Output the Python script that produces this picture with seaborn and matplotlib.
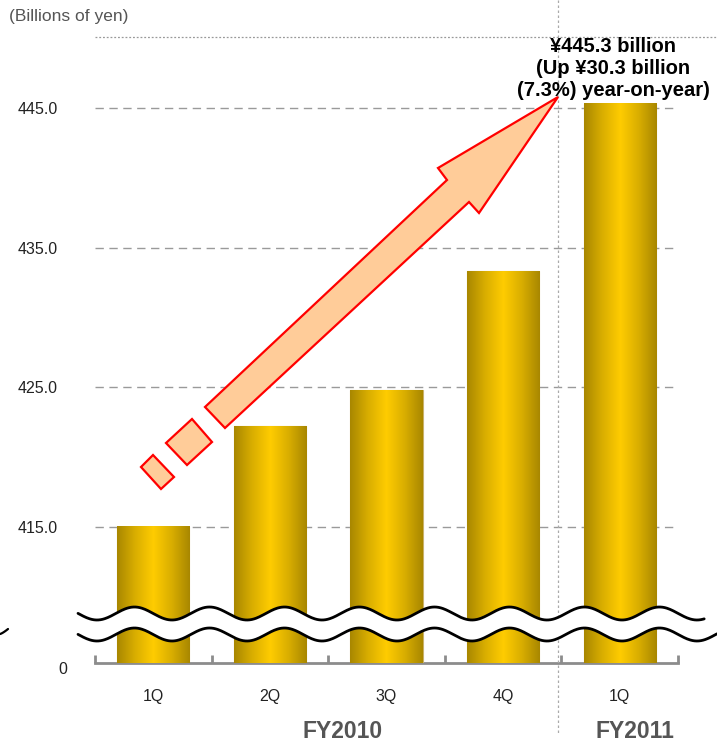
import numpy as np
import pandas as pd
import matplotlib
matplotlib.use("Agg")
import matplotlib.pyplot as plt
from matplotlib.patches import Polygon
from matplotlib.lines import Line2D
from matplotlib.colors import LinearSegmentedColormap
from matplotlib.transforms import ScaledTranslation, blended_transform_factory
import seaborn as sns

# Net sales by quarter (billions of yen)
periods = ["FY2010 1Q", "FY2010 2Q", "FY2010 3Q", "FY2010 4Q", "FY2011 1Q"]
quarter_labels = ["1Q", "2Q", "3Q", "4Q", "1Q"]
sales = [415.0, 422.2, 424.8, 433.3, 445.3]
upper_ticks = [415.0, 425.0, 435.0, 445.0]
fiscal_years = ["FY2010", "FY2011"]
headline = "¥445.3 billion\n(Up ¥30.3 billion\n(7.3%) year-on-year)"

df = pd.DataFrame({"period": periods, "sales": sales})

sns.set_theme(style="white")
plt.rcParams["font.family"] = ["Liberation Sans", "DejaVu Sans"]

W, H = 717, 741
fig = plt.figure(figsize=(W / 100, H / 100), dpi=100)


def fx(x):
    return x / W


def fy(y):
    return 1 - y / H


left, right = 95, 678
ax_top = fig.add_axes([fx(left), fy(620), fx(right) - fx(left), fy(37) - fy(620)])
ax_bot = fig.add_axes([fx(left), fy(663), fx(right) - fx(left), fy(620) - fy(663)])
TOP_LIM = (408.34, 450.08)
BOT_LIM = (0, 10)

gold = LinearSegmentedColormap.from_list(
    "gold", ["#A88700", "#D9AE00", "#FFCC00", "#D9AE00", "#A88700"])
grad = np.linspace(0, 1, 256).reshape(1, -1)

for ax, lim in ((ax_top, TOP_LIM), (ax_bot, BOT_LIM)):
    sns.barplot(data=df, x="period", y="sales", ax=ax, width=0.62,
                color="#E0B400", edgecolor="#C9B26A", linewidth=0.8,
                errorbar=None, zorder=3)
    # horizontal metallic gradient over each bar, limited to the visible range
    for p in ax.patches:
        x0, y0 = p.get_x(), p.get_y()
        y1 = y0 + p.get_height()
        lo, hi = max(y0, lim[0]), min(y1, lim[1])
        if hi <= lo:
            continue
        ax.imshow(grad, cmap=gold, aspect="auto", zorder=3.5,
                  extent=[x0, x0 + p.get_width(), lo, hi])
    ax.set_xlim(-0.5, len(periods) - 0.5)
    ax.set_ylim(*lim)
    ax.set_xlabel("")
    ax.set_ylabel("")
    for s in ax.spines.values():
        s.set_visible(False)

# upper panel: zoomed value range with dashed grid
ax_top.set_yticks(upper_ticks)
ax_top.set_yticklabels([f"{v:.1f}" for v in upper_ticks], fontsize=11.5, color="#222222")
ax_top.tick_params(axis="y", length=0, pad=27)
ax_top.set_xticks([])
for v in upper_ticks:
    ax_top.axhline(v, color="#9a9a9a", lw=1, ls=(0, (6, 4)), zorder=1)

# lower panel: the baseline
ax_bot.set_yticks([0])
ax_bot.set_yticklabels(["0"], fontsize=11.5, color="#222222")
ax_bot.tick_params(axis="y", length=0, pad=20)
for lbl in ax_bot.get_yticklabels():
    lbl.set_transform(lbl.get_transform() + ScaledTranslation(0, -0.05, fig.dpi_scale_trans))
ax_bot.spines["bottom"].set_visible(True)
ax_bot.spines["bottom"].set_color("#8c8c8c")
ax_bot.spines["bottom"].set_linewidth(2)
ax_bot.set_xticks(range(len(periods)))
ax_bot.set_xticklabels(quarter_labels, fontsize=11.5, color="#222222")
ax_bot.tick_params(axis="x", which="major", length=0, pad=19)
ax_bot.set_xticks(np.arange(-0.5, len(periods)), minor=True)
ax_bot.tick_params(axis="x", which="minor", direction="in", length=6,
                   width=2, color="#8c8c8c", bottom=True)

# fiscal year labels
fy_tr = blended_transform_factory(ax_bot.transData, fig.transFigure)
fig.text(1.62, fy(731), fiscal_years[0], transform=fy_tr, ha="center", va="center",
         fontsize=16.5, fontweight="bold", color="#555555")
fig.text(4.13, fy(731), fiscal_years[1], transform=fy_tr, ha="center", va="center",
         fontsize=16.5, fontweight="bold", color="#555555")

# unit label
fig.text(fx(9), fy(17), "(Billions of yen)", ha="left", va="center",
         fontsize=12.5, color="#555555")

# dotted frame lines
fig.add_artist(Line2D([fx(95), fx(717)], [fy(37), fy(37)], color="#999999",
                      lw=0.9, ls=(0, (1.5, 1.5))))
fig.add_artist(Line2D([fx(558), fx(558)], [fy(0), fy(735)], color="#aaaaaa",
                      lw=0.9, ls=(0, (2, 2)), zorder=5))

# axis-break band with wavy edges
xs = np.linspace(78, 717, 600)
period = 75.0
wave = 6.5 * np.cos(2 * np.pi * (xs - 97) / period)
y_up = 613.5 + wave
y_lo = 634.5 + wave
m = xs <= 705
band = np.concatenate([
    np.column_stack([xs[m], y_up[m]]),
    np.column_stack([xs[m][::-1], y_lo[m][::-1]]),
])
fig.add_artist(Polygon([(fx(a), fy(b)) for a, b in band], closed=True,
                       facecolor="white", edgecolor="none", zorder=6,
                       transform=fig.transFigure))
fig.add_artist(Line2D(fx(xs[m]), fy(y_up[m]), color="black", lw=2, zorder=7))
fig.add_artist(Line2D(fx(xs), fy(y_lo), color="black", lw=2, zorder=7))
stub = np.linspace(0, 8, 20)
fig.add_artist(Line2D(fx(stub), fy(634 - 5 * (stub / 8) ** 1.3), color="black",
                      lw=1.6, zorder=7))

# growth arrow with leading dashes
arrow_pts = [(205, 407), (447, 180), (438, 168), (558, 97),
             (479, 213), (469, 202), (225, 428)]
dash1 = [(192, 419), (212, 442), (187, 465), (166, 443)]
dash2 = [(153, 455), (174, 477), (161, 489), (141, 467)]
for pts in (arrow_pts, dash1, dash2):
    fig.add_artist(Polygon([(fx(a), fy(b)) for a, b in pts], closed=True,
                           facecolor="#FFCC99", edgecolor="#FF0000", lw=1.6,
                           joinstyle="miter", zorder=8, transform=fig.transFigure))

fig.text(fx(613), fy(68), headline, ha="center", va="center", fontsize=14.5,
         fontweight="bold", color="black", linespacing=1.2, zorder=9)

fig.savefig("out.png", dpi=100)
